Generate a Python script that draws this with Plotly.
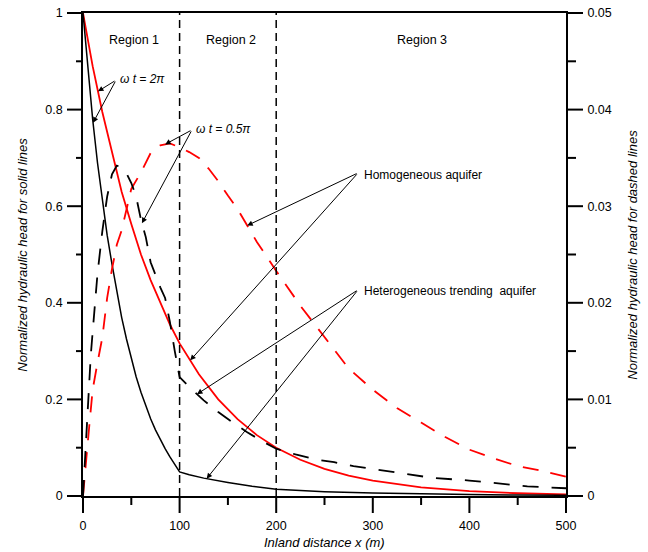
import numpy as np
import plotly.graph_objects as go

# ---------------- data ----------------
# heterogeneous trending aquifer, wt = 2*pi (solid black, left axis)
x_het_2pi = [0, 5, 10, 15, 20, 25, 30, 35, 40, 45, 50, 55, 60, 65, 70, 75, 80, 85, 90, 95, 100,
             110, 125, 150, 175, 200, 250, 300, 350, 400, 450, 500]
h_het_2pi = [1, 0.885, 0.78, 0.69, 0.61, 0.54, 0.48, 0.425, 0.37, 0.325, 0.285, 0.247, 0.215,
             0.186, 0.16, 0.137, 0.117, 0.098, 0.081, 0.064, 0.05,
             0.044, 0.037, 0.028, 0.02, 0.014, 0.009, 0.006, 0.004, 0.003, 0.002, 0.0015]

# homogeneous aquifer, wt = 2*pi (solid red, left axis)
x_hom_2pi = [0, 10, 20, 30, 40, 50, 60, 70, 80, 90, 100, 120, 140, 160, 180, 200, 225, 250,
             275, 300, 350, 400, 450, 500]
h_hom_2pi = [1, 0.89, 0.795, 0.71, 0.63, 0.563, 0.5, 0.447, 0.4, 0.355, 0.316, 0.252, 0.2,
             0.159, 0.126, 0.1, 0.075, 0.056, 0.042, 0.032, 0.018, 0.01, 0.0057, 0.0035]

# heterogeneous trending aquifer, wt = 0.5*pi (dashed black, right axis)
x_het_05pi = [0, 2, 4, 6, 8, 10, 15, 20, 25, 30, 35, 40, 45, 50, 55, 60, 65, 70, 75, 80, 85,
              90, 95, 100, 113, 125, 140, 155, 170, 185, 200, 220, 240, 260, 280, 300, 330,
              360, 400, 430, 460, 500]
h_het_05pi = [0, 0.004, 0.008, 0.012, 0.0145, 0.017, 0.023, 0.0274, 0.031, 0.0333, 0.0342,
              0.034, 0.0334, 0.0324, 0.031, 0.0286, 0.0268, 0.0242, 0.0228, 0.0216, 0.0205,
              0.018, 0.015, 0.0123, 0.011, 0.0099, 0.0087, 0.0076, 0.0066, 0.0057, 0.0049,
              0.0043, 0.0038, 0.0035, 0.0031, 0.0028, 0.0024, 0.0019, 0.0016, 0.0013, 0.001,
              0.0008]

# homogeneous aquifer, wt = 0.5*pi (dashed red, right axis)
x_hom_05pi = [0, 2, 4, 7, 10, 15, 20, 25, 30, 35, 40, 50, 60, 70, 80, 90, 100, 110, 120, 130,
              140, 150, 160, 170, 180, 190, 200, 225, 250, 275, 300, 325, 350, 375, 400, 425,
              450, 475, 500]
h_hom_05pi = [0, 0.002, 0.0045, 0.0078, 0.011, 0.0138, 0.0164, 0.0205, 0.0235, 0.026, 0.0275,
              0.0318, 0.0335, 0.0355, 0.0363, 0.0365, 0.0361, 0.0356, 0.035, 0.0339, 0.0326,
              0.0311, 0.0297, 0.028, 0.0263, 0.0248, 0.0233, 0.0197, 0.0165, 0.0132, 0.011,
              0.0091, 0.0076, 0.0061, 0.0048, 0.0039, 0.0031, 0.0026, 0.002]

region_x = [53, 153, 351]
region_labels = ["Region 1", "Region 2", "Region 3"]
boundaries = [100, 200]

X_RANGE = [0, 500]
Y_RANGE = [0, 1]
Y2_RANGE = [0, 0.05]
x_major = [0, 100, 200, 300, 400, 500]
x_minor = [50, 150, 250, 350, 450]
y_major = [0, 0.2, 0.4, 0.6, 0.8, 1.0]
y_minor = [0.1, 0.3, 0.5, 0.7, 0.9]
y2_major = [0, 0.01, 0.02, 0.03, 0.04, 0.05]
y2_minor = [0.005, 0.015, 0.025, 0.035, 0.045]

FONT = "Liberation Sans, Arial, sans-serif"

fig = go.Figure()
fig.add_trace(go.Scatter(x=x_hom_05pi, y=h_hom_05pi, yaxis="y2", mode="lines",
                         line=dict(color="#ff0000", width=1.8, dash="16px,12px")))
fig.add_trace(go.Scatter(x=x_het_05pi, y=h_het_05pi, yaxis="y2", mode="lines",
                         line=dict(color="#000000", width=1.8, dash="16px,13px")))
fig.add_trace(go.Scatter(x=x_hom_2pi, y=h_hom_2pi, mode="lines",
                         line=dict(color="#ff0000", width=1.8)))
fig.add_trace(go.Scatter(x=x_het_2pi, y=h_het_2pi, mode="lines",
                         line=dict(color="#000000", width=1.5)))

for b in boundaries:
    fig.add_shape(type="line", x0=b, x1=b, y0=0, y1=1, xref="x", yref="y",
                  line=dict(color="black", width=1.5, dash="8px,5px"))


# tick marks (drawn as pixel-sized shapes anchored on the axis positions)
def frac(v, rng):
    return (v - rng[0]) / (rng[1] - rng[0])


TICK_LINE = dict(color="black", width=2)
for vals, ln in ((x_major, 17), (x_minor, 9)):
    for v in vals:
        fig.add_shape(type="line", xref="paper", yref="paper", x0=frac(v, X_RANGE),
                      x1=frac(v, X_RANGE), ysizemode="pixel", yanchor=0, y0=0, y1=-ln,
                      line=TICK_LINE)
for vals, ln in ((y_major, 16), (y_minor, 7)):
    for v in vals:
        fig.add_shape(type="line", xref="paper", yref="paper", y0=frac(v, Y_RANGE),
                      y1=frac(v, Y_RANGE), xsizemode="pixel", xanchor=0, x0=0, x1=-ln,
                      line=TICK_LINE)
for vals, ln in ((y2_major, 17), (y2_minor, 10)):
    for v in vals:
        fig.add_shape(type="line", xref="paper", yref="paper", y0=frac(v, Y2_RANGE),
                      y1=frac(v, Y2_RANGE), xsizemode="pixel", xanchor=1, x0=0, x1=ln,
                      line=TICK_LINE)

ann = []
for rx, rl in zip(region_x, region_labels):
    ann.append(dict(x=rx, y=0.945, xref="x", yref="y", text=rl, showarrow=False,
                    font=dict(size=12.5, family=FONT, color="black")))


def arrow(tail_x, tail_y, head_x, xs, ys, yref="y", scale=1.0):
    hy = float(np.interp(head_x, xs, ys))
    return dict(x=head_x, y=hy, xref="x", yref=yref, ax=tail_x, ay=tail_y * scale,
                axref="x", ayref=yref, text="", showarrow=True, arrowhead=2,
                arrowsize=1.1, arrowwidth=1, arrowcolor="black", standoff=0,
                startstandoff=0)


Y2 = Y2_RANGE[1]
# wt = 2 pi
ann.append(arrow(34.2, 0.861, 15.5, x_hom_2pi, h_hom_2pi))
ann.append(arrow(34.2, 0.861, 10.4, x_het_2pi, h_het_2pi))
ann.append(dict(x=36, y=0.863, xref="x", yref="y", xanchor="left", yanchor="middle",
                showarrow=False, text="<i>ω t = 2π</i>",
                font=dict(size=12, family=FONT, color="black")))
# wt = 0.5 pi
ann.append(arrow(112.8, 0.758, 85, x_hom_05pi, h_hom_05pi, yref="y2", scale=Y2))
ann.append(arrow(112.8, 0.758, 61, x_het_05pi, h_het_05pi, yref="y2", scale=Y2))
ann.append(dict(x=115, y=0.76, xref="x", yref="y", xanchor="left", yanchor="middle",
                showarrow=False, text="<i>ω t = 0.5π</i>",
                font=dict(size=12, family=FONT, color="black")))
# Homogeneous aquifer
ann.append(arrow(284.8, 0.669, 170, x_hom_05pi, h_hom_05pi, yref="y2", scale=Y2))
ann.append(arrow(284.8, 0.669, 111, x_hom_2pi, h_hom_2pi))
ann.append(dict(x=288.5, y=0.665, xref="x", yref="y", xanchor="left", yanchor="middle",
                showarrow=False, text="Homogeneous aquifer",
                font=dict(size=12, family=FONT, color="black")))
# Heterogeneous trending aquifer
ann.append(arrow(284.8, 0.427, 118, x_het_05pi, h_het_05pi, yref="y2", scale=Y2))
ann.append(arrow(284.8, 0.427, 128, x_het_2pi, h_het_2pi))
ann.append(dict(x=288.5, y=0.425, xref="x", yref="y", xanchor="left", yanchor="middle",
                showarrow=False, text="Heterogeneous trending&nbsp; aquifer",
                font=dict(size=12, family=FONT, color="black")))

# axis titles
ann.append(dict(x=-0.126, y=0.5, xref="paper", yref="paper", xanchor="center",
                yanchor="middle", textangle=-90, showarrow=False,
                text="<i>Normalized hydraulic head for solid lines</i>",
                font=dict(size=13, family=FONT, color="black")))
ann.append(dict(x=1.137, y=0.5, xref="paper", yref="paper", xanchor="center",
                yanchor="middle", textangle=-90, showarrow=False,
                text="<i>Normalized hydraulic head for dashed lines</i>",
                font=dict(size=13, family=FONT, color="black")))
ann.append(dict(x=0.5, y=-0.096, xref="paper", yref="paper", xanchor="center",
                yanchor="middle", showarrow=False,
                text="<i>Inland distance x (m)</i>",
                font=dict(size=13, family=FONT, color="black")))

axis_common = dict(showgrid=False, zeroline=False, showline=True, linecolor="black",
                   linewidth=1.8, ticks="outside", tickcolor="rgba(0,0,0,0)",
                   automargin=False, ticklabeloverflow="allow",
                   tickfont=dict(size=12.5, family=FONT, color="black"))

fig.update_layout(
    width=648, height=552,
    margin=dict(l=83, r=82, t=13, b=56, autoexpand=False),
    paper_bgcolor="white", plot_bgcolor="white",
    showlegend=False,
    annotations=ann,
    xaxis=dict(range=X_RANGE, tickvals=x_major, ticklen=17, mirror=True, **axis_common),
    yaxis=dict(range=Y_RANGE, tickvals=y_major, ticktext=["0", "0.2", "0.4", "0.6", "0.8", "1"],
               ticklen=16, **axis_common),
    yaxis2=dict(range=Y2_RANGE, tickvals=y2_major, ticklen=17, overlaying="y",
                side="right", **axis_common),
)

# remove the default 8px page margin so the figure sits at the window's corner
fig.write_html("out.html",
               config={"displayModeBar": False, "displaylogo": False},
               post_script="document.body.style.margin='0';document.body.style.padding='0';")
